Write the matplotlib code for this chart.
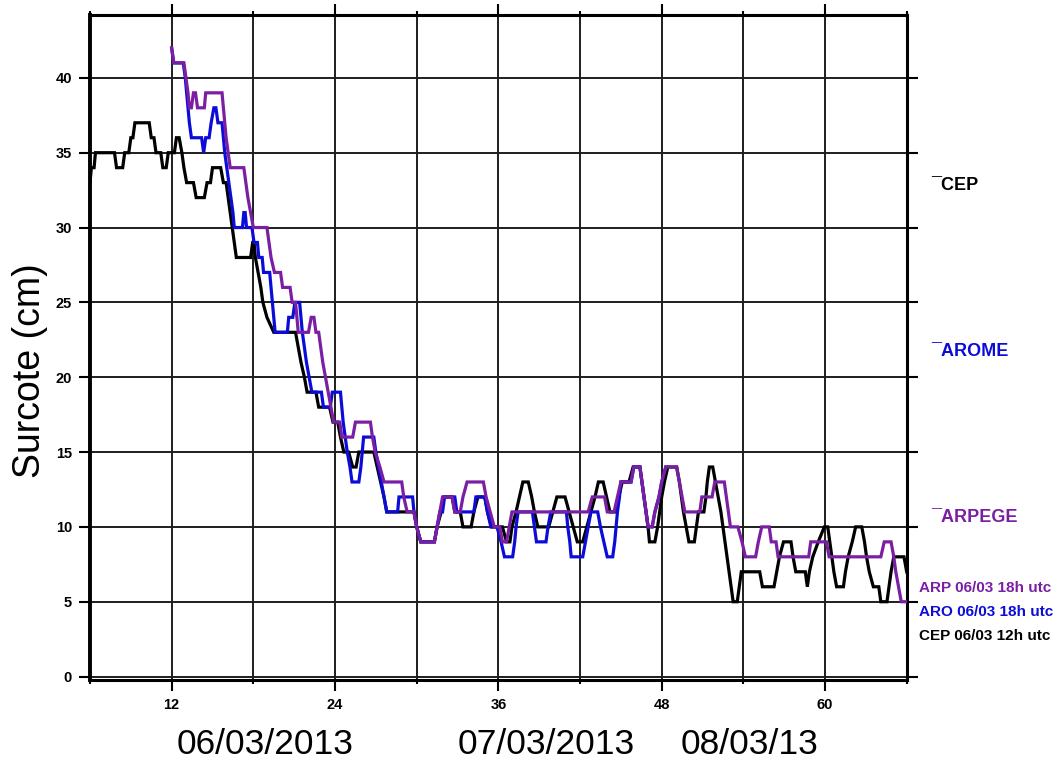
import matplotlib
matplotlib.use("Agg")
import matplotlib.pyplot as plt
from matplotlib.ticker import FixedLocator

plt.rcParams["font.family"] = ["Liberation Sans", "DejaVu Sans"]

# Storm surge forecasts (cm) versus forecast hour, read as vertex lists
cep_t = [6.0, 6.1, 6.3, 6.4, 7.8, 7.95, 8.4, 8.55, 8.85, 9.0, 9.15, 9.3, 10.35, 10.5,
         10.7, 10.85, 11.2, 11.35, 11.6, 11.75, 12.2, 12.35, 12.55, 12.75, 12.9, 13.1,
         13.6, 13.8, 14.4, 14.6, 14.85, 15.0, 15.6, 15.8, 16.0, 16.15, 16.3, 16.45, 16.6,
         16.75, 17.8, 17.95, 18.05, 18.15, 18.35, 18.55, 18.7, 19.0, 19.5, 21.1, 21.3,
         21.5, 21.75, 21.95, 22.6, 22.8, 23.6, 23.85, 24.2, 24.4, 24.65, 25.0, 25.3,
         25.55, 25.75, 26.85, 27.1, 27.35, 27.6, 27.8, 29.8, 30.0, 30.3, 31.3, 31.5,
         31.8, 32.0, 32.6, 32.8, 33.2, 33.4, 34.0, 34.2, 34.5, 35.0, 35.2, 35.5, 36.3,
         36.6, 36.85, 37.0, 37.3, 37.55, 37.8, 38.2, 38.45, 38.65, 38.9, 39.7, 40.0,
         40.3, 40.9, 41.2, 41.5, 41.8, 42.2, 42.5, 42.8, 43.1, 43.35, 43.7, 43.95, 44.2,
         44.6, 44.85, 45.1, 45.6, 45.9, 46.4, 46.55, 46.7, 46.85, 47.0, 47.1, 47.5, 47.7,
         47.85, 48.0, 48.2, 48.45, 49.1, 49.3, 49.45, 49.6, 49.8, 50.0, 50.4, 50.55,
         50.7, 51.1, 51.25, 51.35, 51.5, 51.75, 51.95, 52.15, 52.35, 52.5, 52.65, 52.8,
         52.95, 53.1, 53.25, 53.55, 53.7, 53.85, 55.2, 55.4, 56.25, 56.45, 56.65, 56.95,
         57.5, 57.65, 57.85, 58.55, 58.7, 58.85, 59.1, 59.5, 59.95, 60.2, 60.35, 60.5,
         60.65, 60.85, 61.35, 61.5, 61.7, 62.0, 62.25, 62.7, 62.9, 63.05, 63.25, 63.55,
         63.95, 64.1, 64.55, 64.7, 64.85, 65.05, 65.8, 66.0]
cep_v = [33, 34, 34, 35, 35, 34, 34, 35, 35, 36, 36, 37, 37, 36,
         36, 35, 35, 34, 34, 35, 35, 36, 36, 35, 34, 33,
         33, 32, 32, 33, 33, 34, 34, 33, 33, 32, 31, 30, 29,
         28, 28, 29, 29, 28, 27, 26, 25, 24, 23, 23, 22,
         21, 20, 19, 19, 18, 18, 17, 17, 16, 15, 15, 14,
         14, 15, 15, 14, 13, 12, 11, 11, 10, 9, 9, 10,
         11, 12, 12, 11, 11, 10, 10, 11, 12, 12, 11, 10, 10,
         9, 9, 10, 11, 12, 13, 13, 12, 11, 10, 10, 11,
         12, 12, 11, 10, 9, 9, 10, 11, 12, 13, 13, 12, 11,
         11, 12, 13, 13, 14, 14, 13, 12, 11, 10, 9, 9, 10,
         11, 12, 13, 14, 14, 13, 12, 11, 10, 9, 9, 10,
         11, 11, 12, 13, 14, 14, 13, 12, 11, 10, 9, 8,
         7, 6, 5, 5, 6, 7, 7, 6, 6, 7, 8, 9,
         9, 8, 7, 7, 6, 7, 8, 9, 10, 10, 9, 8,
         7, 6, 6, 7, 8, 9, 10, 10, 9, 8, 7, 6,
         6, 5, 5, 6, 7, 8, 8, 7]

aro_t = [12.0, 12.15, 12.85, 13.0, 13.1, 13.2, 13.3, 13.45, 14.2, 14.35, 14.5, 14.75,
         14.9, 15.1, 15.25, 15.4, 15.7, 15.8, 15.9, 16.05, 16.2, 16.35, 16.5, 16.6,
         17.2, 17.3, 17.4, 17.5, 17.9, 18.05, 18.3, 18.4, 18.65, 18.75, 19.2, 19.3,
         19.4, 19.5, 19.6, 20.5, 20.6, 20.9, 21.05, 21.4, 21.5, 21.6, 21.75, 21.9,
         22.1, 22.3, 23.0, 23.15, 23.65, 23.8, 24.4, 24.5, 24.6, 24.75, 24.9, 25.1,
         25.25, 25.75, 25.9, 26.0, 26.1, 26.85, 27.0, 27.2, 27.4, 27.6, 27.8, 28.6,
         28.7, 29.7, 29.8, 30.0, 30.3, 31.3, 31.5, 31.7, 31.9, 32.05, 32.8, 32.95,
         34.2, 34.35, 35.0, 35.2, 35.45, 35.9, 36.2, 36.45, 37.05, 37.2, 37.3, 37.45,
         38.5, 38.65, 38.8, 39.5, 39.65, 39.85, 41.0, 41.1, 41.25, 41.35, 42.2, 42.4,
         42.6, 42.8, 43.3, 43.5, 43.75, 44.0, 44.4, 44.55, 44.65, 44.75, 44.9, 45.0,
         45.75, 45.95, 46.4, 46.55, 46.7, 46.85, 47.0, 47.3, 47.5, 47.8, 48.0, 48.3]
aro_v = [42, 41, 41, 40, 39, 38, 37, 36, 36, 35, 36, 36,
         37, 38, 38, 37, 37, 36, 35, 34, 33, 32, 31, 30,
         30, 31, 31, 30, 30, 29, 29, 28, 28, 27, 27, 26,
         25, 24, 23, 23, 24, 24, 25, 25, 24, 23, 22, 21,
         20, 19, 19, 18, 18, 19, 19, 18, 17, 16, 15, 14,
         13, 13, 14, 15, 16, 16, 15, 14, 13, 12, 11, 11,
         12, 12, 11, 10, 9, 9, 10, 11, 11, 12, 12, 11,
         11, 12, 12, 11, 10, 10, 9, 8, 8, 9, 10, 11,
         11, 10, 9, 9, 10, 11, 11, 10, 9, 8, 8, 9,
         10, 11, 11, 10, 9, 8, 8, 9, 10, 11, 12, 13,
         13, 14, 14, 13, 12, 11, 10, 10, 11, 12, 13, 14]

arp_t = [12.0, 12.15, 12.9, 13.05, 13.2, 13.3, 13.45, 13.6, 13.75, 13.9, 14.4, 14.5,
         15.7, 15.8, 15.9, 16.0, 16.15, 16.3, 17.3, 17.45, 17.6, 17.8, 18.0, 19.0,
         19.15, 19.3, 19.55, 20.0, 20.15, 20.7, 20.85, 21.1, 21.2, 21.3, 22.05, 22.25,
         22.45, 22.6, 22.8, 22.95, 23.1, 23.3, 23.5, 23.7, 23.9, 24.35, 24.5, 25.3,
         25.5, 26.6, 26.75, 26.95, 27.3, 27.6, 28.9, 29.05, 29.3, 29.8, 30.0, 30.3,
         31.3, 31.5, 31.7, 31.9, 32.6, 32.8, 33.2, 33.4, 33.7, 34.9, 35.1, 35.4,
         35.7, 36.1, 36.3, 36.6, 36.8, 37.0, 42.6, 42.9, 43.8, 44.0, 44.5, 44.75,
         45.0, 45.75, 45.95, 46.4, 46.55, 46.7, 46.85, 47.0, 47.3, 47.5, 47.8, 48.0,
         48.3, 49.1, 49.3, 49.5, 49.7, 50.8, 50.95, 51.7, 51.9, 52.6, 52.75, 52.9,
         53.05, 53.6, 53.9, 54.15, 54.9, 55.1, 55.35, 55.9, 56.05, 56.4, 56.55, 58.8,
         58.95, 60.1, 60.3, 64.1, 64.35, 64.85, 65.05, 65.2, 65.4, 65.6, 66.0]
arp_v = [42, 41, 41, 40, 39, 38, 38, 39, 39, 38, 38, 39,
         39, 38, 37, 36, 35, 34, 34, 33, 32, 31, 30, 30,
         29, 28, 27, 27, 26, 26, 25, 25, 24, 23, 23, 24,
         24, 23, 23, 22, 21, 20, 19, 18, 17, 17, 16, 16,
         17, 17, 16, 15, 14, 13, 13, 12, 11, 11, 10, 9,
         9, 10, 11, 12, 12, 11, 11, 12, 13, 13, 12, 11,
         10, 10, 9, 9, 10, 11, 11, 12, 12, 11, 11, 12,
         13, 13, 14, 14, 13, 12, 11, 10, 10, 11, 12, 13,
         14, 14, 13, 12, 11, 11, 12, 12, 13, 13, 12, 11,
         10, 10, 9, 8, 8, 9, 10, 10, 9, 9, 8, 8,
         9, 9, 8, 8, 9, 9, 8, 7, 6, 5, 5]

x_major = [12, 24, 36, 48, 60]
x_minor = [6, 18, 30, 42, 54, 66]
y_ticks = [0, 5, 10, 15, 20, 25, 30, 35, 40]
date_labels = ["06/03/2013", "07/03/2013", "08/03/13"]

C_CEP = "#000000"
C_ARO = "#0c0cd8"
C_ARP = "#7a1fa4"

fig = plt.figure(figsize=(10.64, 7.62), dpi=100)
ax = fig.add_axes([90 / 1064, 1 - 680 / 762, 816.7 / 1064, 665 / 762])

lw = 2.3
ax.plot(cep_t, cep_v, color=C_CEP, lw=lw, solid_joinstyle="miter", zorder=3)
ax.plot(aro_t, aro_v, color=C_ARO, lw=lw, solid_joinstyle="miter", zorder=4)
ax.plot(arp_t, arp_v, color=C_ARP, lw=lw, solid_joinstyle="miter", zorder=5)

ax.set_xlim(6, 66)
ax.set_ylim(-0.23, 44.2)

ax.xaxis.set_major_locator(FixedLocator(x_major))
ax.xaxis.set_minor_locator(FixedLocator(x_minor))
ax.yaxis.set_major_locator(FixedLocator(y_ticks))
ax.set_xticklabels([str(v) for v in x_major])
ax.set_yticklabels([str(v) for v in y_ticks])

ax.grid(True, which="both", axis="x", color="#1e1e1e", lw=1.4, zorder=1)
ax.grid(True, which="major", axis="y", color="#1e1e1e", lw=1.4, zorder=1)

for side, w in (("left", 2.8), ("bottom", 2.2), ("top", 2.2), ("right", 2.2)):
    ax.spines[side].set_linewidth(w)
    ax.spines[side].set_color("black")

ax.tick_params(axis="both", which="major", direction="out", width=1.5,
               top=True, right=True, labelsize=10.5)
ax.tick_params(axis="y", which="major", length=8, pad=5)
ax.tick_params(axis="x", which="major", length=8, pad=5)
ax.tick_params(axis="x", which="minor", direction="out", length=3, width=1.5, top=True)
for lab in ax.get_xticklabels() + ax.get_yticklabels():
    lab.set_fontweight("bold")

fig.text(30 / 1064, 1 - 371 / 762, "Surcote (cm)", rotation=90,
         fontsize=27, ha="center", va="center")

for label, xc in zip(date_labels, [265, 546, 750]):
    fig.text(xc / 1064, 1 - 745 / 762, label, fontsize=25.5, ha="center", va="center")

# model names on the right
for name, color, yc in (("CEP", C_CEP, 185), ("AROME", C_ARO, 352), ("ARPEGE", C_ARP, 517)):
    fig.text(931 / 1064, 1 - yc / 762, "\u00af" + name, color=color, fontsize=13,
             fontweight="bold", ha="left", va="center")

for txt, color, yc in (("ARP 06/03 18h utc", C_ARP, 588),
                       ("ARO 06/03 18h utc", C_ARO, 612),
                       ("CEP 06/03 12h utc", C_CEP, 636)):
    fig.text(919 / 1064, 1 - yc / 762, txt, color=color, fontsize=11,
             fontweight="bold", ha="left", va="center")

fig.savefig("out.png", dpi=100, facecolor="white")
